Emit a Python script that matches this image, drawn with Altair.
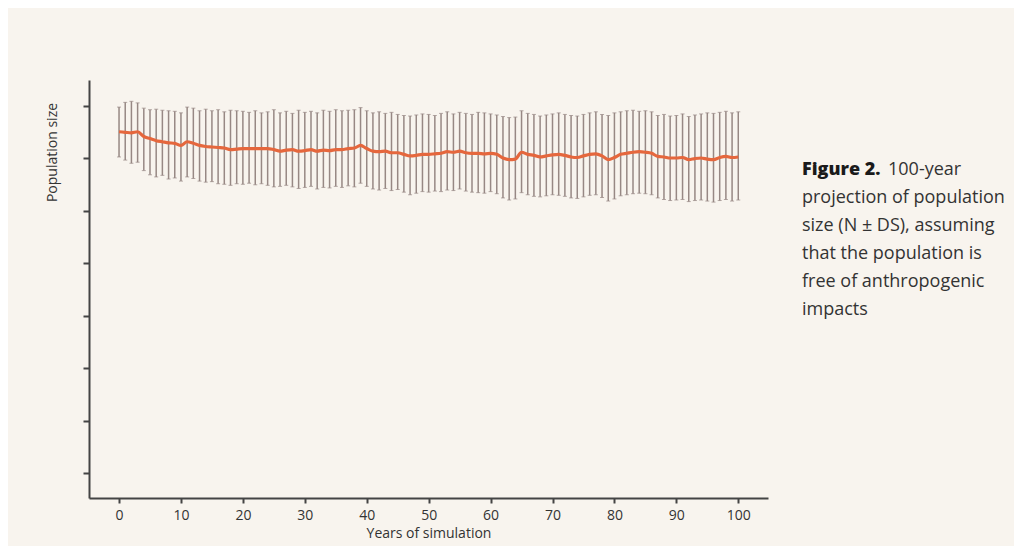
import altair as alt
import pandas as pd

years = list(range(0, 101))

mean_n = [750, 749, 748, 750, 741, 737, 733, 731, 729, 728,
          724, 731, 728, 724, 722, 721, 720, 719, 716, 717,
          718, 718, 718, 718, 718, 716, 713, 715, 716, 713,
          714, 716, 713, 715, 714, 716, 716, 718, 719, 724,
          718, 713, 712, 713, 710, 710, 707, 704, 705, 707,
          707, 708, 709, 712, 711, 713, 710, 709, 709, 708,
          709, 707, 700, 697, 698, 711, 707, 705, 702, 704,
          706, 707, 705, 702, 701, 704, 707, 708, 704, 697,
          701, 707, 709, 711, 712, 711, 709, 703, 702, 700,
          700, 701, 697, 699, 700, 698, 697, 701, 703, 701, 702]

upper_n = [797, 806, 808, 805, 795, 792, 793, 791, 790, 789,
           786, 797, 795, 790, 793, 790, 792, 788, 791, 790,
           789, 787, 790, 786, 788, 792, 786, 789, 785, 791,
           787, 789, 786, 791, 789, 792, 790, 791, 792, 796,
           790, 786, 788, 785, 787, 783, 781, 780, 782, 784,
           783, 781, 785, 788, 784, 787, 785, 783, 787, 786,
           784, 782, 779, 777, 778, 790, 785, 783, 780, 782,
           784, 786, 783, 781, 780, 783, 786, 788, 783, 781,
           786, 788, 790, 791, 789, 790, 788, 781, 783, 780,
           781, 784, 779, 782, 784, 786, 785, 787, 789, 786, 788]

lower_n = [702, 696, 690, 692, 676, 668, 664, 667, 660, 662,
           656, 664, 661, 656, 654, 655, 651, 650, 648, 651,
           650, 652, 649, 651, 648, 645, 646, 648, 645, 642,
           644, 646, 641, 644, 643, 646, 644, 647, 645, 652,
           646, 641, 639, 642, 638, 640, 635, 630, 633, 636,
           635, 637, 636, 639, 638, 641, 637, 635, 634, 633,
           636, 632, 624, 620, 622, 634, 630, 627, 626, 628,
           630, 629, 627, 624, 623, 626, 629, 630, 625, 618,
           622, 628, 630, 632, 633, 632, 630, 624, 621, 619,
           620, 621, 617, 619, 620, 618, 616, 619, 621, 618, 620]

x_ticks = list(range(0, 101, 10))
y_ticks = [100, 200, 300, 400, 500, 600, 700, 800]

caption_lines = ["projection of population", "size (N \u00b1 DS), assuming",
                 "that the population is", "free of anthropogenic", "impacts"]

df = pd.DataFrame({"year": years, "mean": mean_n, "upper": upper_n, "lower": lower_n})

FONT = "Open Sans"

xs = alt.X("year:Q", scale=alt.Scale(domain=[-4.85, 104.8], nice=False, zero=False),
           axis=alt.Axis(values=x_ticks, title="Years of simulation", grid=False,
                         domainColor="#444", domainWidth=2, tickColor="#444", tickWidth=2,
                         tickSize=5, labelFontSize=14, labelColor="#333", labelFont=FONT,
                         labelPadding=5, titleFont=FONT, titleFontSize=14,
                         titleFontWeight="normal", titleColor="#333", titlePadding=4))
ys = alt.Y("lower:Q", scale=alt.Scale(domain=[52.4, 848.6], nice=False, zero=False),
           axis=alt.Axis(values=y_ticks, labels=False, title="Population size", grid=False,
                         domainColor="#444", domainWidth=2, tickColor="#444", tickWidth=2,
                         tickSize=6, titleFont=FONT, titleFontSize=14,
                         titleFontWeight="normal", titleColor="#333",
                         titleX=-37, titleY=72, titleAngle=270, titleBaseline="middle",
                         titleAlign="center"))

bars = alt.Chart(df).mark_rule(color="#978884", strokeWidth=1.5).encode(
    x=xs, y=ys, y2="upper:Q")

cap_top = alt.Chart(df).mark_tick(color="#978884", size=4, thickness=1, orient="horizontal").encode(
    x="year:Q", y="upper:Q")
cap_bot = alt.Chart(df).mark_tick(color="#978884", size=4, thickness=1, orient="horizontal").encode(
    x="year:Q", y="lower:Q")

line = alt.Chart(df).mark_line(color="#e5673d", strokeWidth=3.2, interpolate="monotone").encode(
    x="year:Q", y="mean:Q")

cap_df = pd.DataFrame({"txt": caption_lines, "row": list(range(1, len(caption_lines) + 1))})

fig_bold = alt.Chart(pd.DataFrame({"t": ["Figure 2."]})).mark_text(
    align="left", baseline="middle", font=FONT, fontSize=18, fontWeight=800, color="#1a1a1a"
).encode(x=alt.value(713), y=alt.value(90), text="t:N")
fig_rest = alt.Chart(pd.DataFrame({"t": ["100-year"]})).mark_text(
    align="left", baseline="middle", font=FONT, fontSize=18, color="#333"
).encode(x=alt.value(799), y=alt.value(90), text="t:N")
caption = alt.Chart(cap_df).transform_calculate(py="90 + datum.row * 28").mark_text(
    align="left", baseline="middle", font=FONT, fontSize=18, color="#333"
).encode(x=alt.value(713), y=alt.Y("py:Q", scale=None), text="txt:N")

chart = alt.layer(bars, cap_top, cap_bot, line, fig_bold, fig_rest, caption).properties(
    width=679, height=418,
    autosize=alt.AutoSizeParams(type="none"),
    padding={"left": 81, "top": 72, "right": 246, "bottom": 48},
    background="#f8f4ee",
).configure_view(stroke=None)

chart.save("out.html", embed_options={"renderer": "svg", "actions": False})
